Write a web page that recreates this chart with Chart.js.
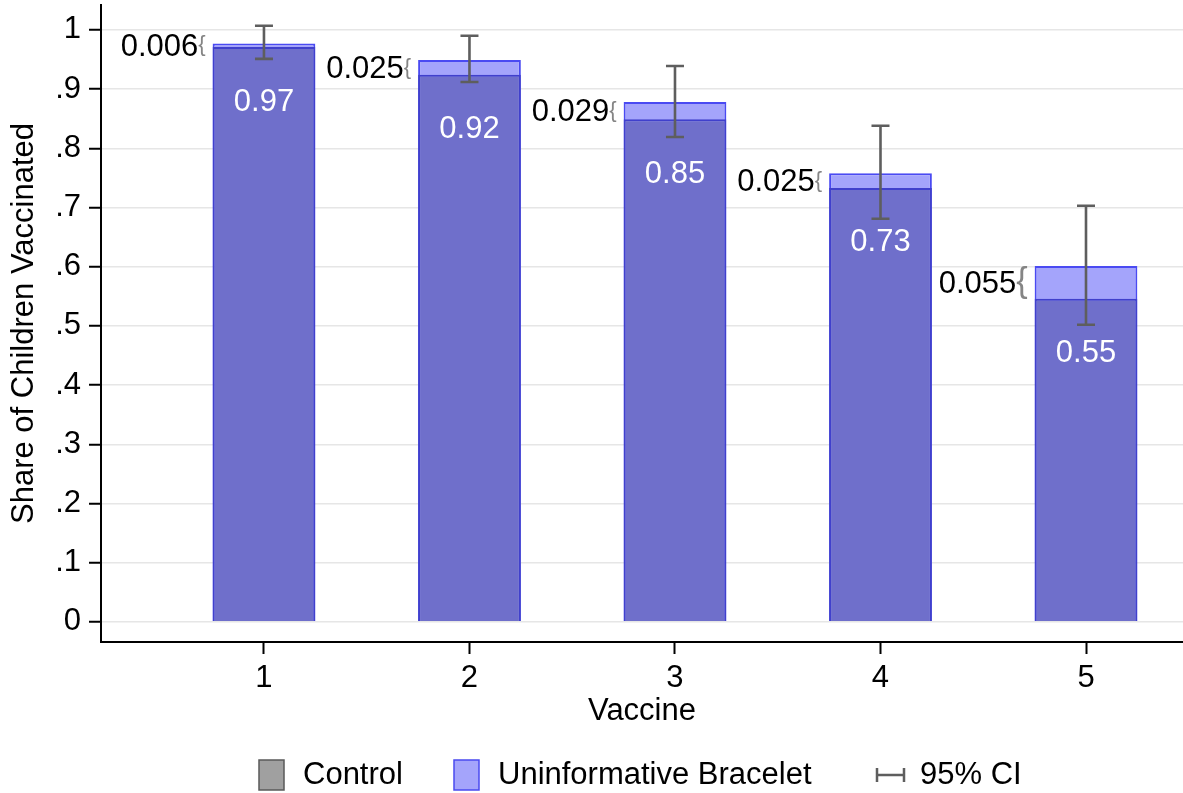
<!DOCTYPE html>
<html>
<head>
<meta charset="utf-8">
<script src="https://cdn.jsdelivr.net/npm/chart.js@4/dist/chart.umd.min.js"></script>
<style>
html,body{margin:0;padding:0;background:#fff;}
#wrap{width:1183px;height:793px;position:relative;}
</style>
</head>
<body>
<div id="wrap"><canvas id="c"></canvas></div>
<script>
const categories = [1, 2, 3, 4, 5];
const categoryLabels = ['1', '2', '3', '4', '5'];
const controlValues = [0.971, 0.924, 0.849, 0.733, 0.546];
const braceletValues = [0.977, 0.949, 0.878, 0.758, 0.601];
const ciLow = [0.951, 0.912, 0.819, 0.681, 0.502];
const ciHigh = [1.007, 0.990, 0.939, 0.838, 0.703];
const diffLabels = ['0.006', '0.025', '0.029', '0.025', '0.055'];
const controlLabels = ['0.97', '0.92', '0.85', '0.73', '0.55'];
const yTickValues = [0, 0.1, 0.2, 0.3, 0.4, 0.5, 0.6, 0.7, 0.8, 0.9, 1];
const yTickLabels = ['0', '.1', '.2', '.3', '.4', '.5', '.6', '.7', '.8', '.9', '1'];
const legendLabels = ['Control', 'Uninformative Bracelet', '95% CI'];

const FONT = '"Liberation Sans", Arial, Helvetica, sans-serif';
const FS = 31;

const annotPlugin = {
  id: 'annot',
  afterDatasetsDraw(chart) {
    const ctx = chart.ctx;
    const xs = chart.scales.x, ys = chart.scales.y;
    const meta = chart.getDatasetMeta(0);
    ctx.save();
    categories.forEach((c, i) => {
      const x = xs.getPixelForValue(c);
      const bar = meta.data[i];
      const halfW = bar.width / 2;
      const yc = ys.getPixelForValue(controlValues[i]);
      const yb = ys.getPixelForValue(braceletValues[i]);
      // error bars
      const yl = ys.getPixelForValue(ciLow[i]);
      const yh = ys.getPixelForValue(ciHigh[i]);
      ctx.strokeStyle = '#5e5e5e';
      ctx.lineWidth = 2.6;
      ctx.lineCap = 'butt';
      ctx.beginPath();
      ctx.moveTo(x, yl); ctx.lineTo(x, yh);
      ctx.moveTo(x - 9, yl); ctx.lineTo(x + 9, yl);
      ctx.moveTo(x - 9, yh); ctx.lineTo(x + 9, yh);
      ctx.stroke();
      // inside label
      ctx.fillStyle = '#ffffff';
      ctx.font = FS + 'px ' + FONT;
      ctx.textAlign = 'center';
      ctx.textBaseline = 'middle';
      ctx.fillText(controlLabels[i], x, yc + 55);
      // brace + diff label
      const mid = (yc + yb) / 2;
      const diffPx = Math.abs(yc - yb);
      const bfs = Math.max(22, diffPx * 1.05);
      ctx.font = bfs + 'px ' + FONT;
      ctx.fillStyle = '#858585';
      ctx.textAlign = 'right';
      const bx = x - halfW - 7;
      ctx.fillText('{', bx, mid);
      const bw = ctx.measureText('{').width;
      ctx.font = FS + 'px ' + FONT;
      ctx.fillStyle = '#000000';
      ctx.fillText(diffLabels[i], bx - bw, mid + 2);
    });
    ctx.restore();
  },
  afterDraw(chart) {
    const ctx = chart.ctx;
    ctx.save();
    const cy = 775;
    ctx.font = FS + 'px ' + FONT;
    ctx.textBaseline = 'middle';
    ctx.textAlign = 'left';
    // Control box
    ctx.fillStyle = '#a0a0a0';
    ctx.strokeStyle = '#5a5a5a';
    ctx.lineWidth = 1.5;
    ctx.fillRect(259, cy - 15, 25, 30);
    ctx.strokeRect(259, cy - 15, 25, 30);
    ctx.fillStyle = '#000';
    ctx.fillText(legendLabels[0], 303, cy);
    // Bracelet box
    ctx.fillStyle = '#a4a4fb';
    ctx.strokeStyle = '#4a4af0';
    ctx.fillRect(454, cy - 15, 25, 30);
    ctx.strokeRect(454, cy - 15, 25, 30);
    ctx.fillStyle = '#000';
    ctx.fillText(legendLabels[1], 498, cy);
    // CI symbol
    ctx.strokeStyle = '#5e5e5e';
    ctx.lineWidth = 2.5;
    ctx.beginPath();
    ctx.moveTo(877, cy); ctx.lineTo(904, cy);
    ctx.moveTo(877, cy - 7); ctx.lineTo(877, cy + 7);
    ctx.moveTo(904, cy - 7); ctx.lineTo(904, cy + 7);
    ctx.stroke();
    ctx.fillStyle = '#000';
    ctx.fillText(legendLabels[2], 920, cy);
    ctx.restore();
  }
};

new Chart(document.getElementById('c'), {
  type: 'bar',
  data: {
    datasets: [
      {
        label: 'Control',
        data: categories.map((c, i) => ({ x: c, y: controlValues[i] })),
        backgroundColor: '#6f6fcb',
        borderColor: '#4040cc',
        borderWidth: 2,
        grouped: false,
        categoryPercentage: 1,
        barPercentage: 0.5
      },
      {
        label: 'Uninformative Bracelet',
        data: categories.map((c, i) => ({ x: c, y: braceletValues[i] })),
        backgroundColor: '#a4a4fb',
        borderColor: '#4a4af2',
        borderWidth: 2,
        grouped: false,
        categoryPercentage: 1,
        barPercentage: 0.5
      }
    ]
  },
  options: {
    responsive: true,
    maintainAspectRatio: false,
    animation: false,
    layout: { padding: { top: 5, right: 0, left: 0, bottom: 0 } },
    plugins: { legend: { display: false }, tooltip: { enabled: false } },
    scales: {
      x: {
        type: 'linear',
        offset: false,
        min: 0.207,
        max: 5.472,
        afterBuildTicks: (s) => { s.ticks = categories.map(v => ({ value: v })); },
        afterFit: (s) => { s.height = 151; s.paddingLeft = 0; s.paddingRight = 0; },
        ticks: {
          callback: (v) => categoryLabels[categories.indexOf(v)],
          color: '#000',
          font: { family: FONT, size: FS },
          padding: 6,
          maxRotation: 0,
          autoSkip: false
        },
        grid: { offset: false, drawOnChartArea: false, tickLength: 12, tickColor: '#000', tickWidth: 2 },
        border: { color: '#000', width: 2 },
        title: {
          display: true,
          text: 'Vaccine',
          color: '#000',
          font: { family: FONT, size: FS },
          padding: { top: 0, bottom: 63 }
        }
      },
      y: {
        min: -0.034,
        max: 1.042,
        afterBuildTicks: (s) => { s.ticks = yTickValues.map(v => ({ value: v })); },
        afterFit: (s) => { s.width = 101; s.paddingTop = 0; s.paddingBottom = 0; },
        ticks: {
          callback: (v) => yTickLabels[yTickValues.findIndex(t => Math.abs(t - v) < 1e-9)],
          color: '#000',
          font: { family: FONT, size: FS },
          padding: 8,
          autoSkip: false
        },
        grid: { color: '#e6e6e6', lineWidth: 1.5, tickLength: 12, tickColor: '#000', tickWidth: 2 },
        border: { color: '#000', width: 2 },
        title: {
          display: true,
          text: 'Share of Children Vaccinated',
          color: '#000',
          font: { family: FONT, size: FS },
          padding: { top: 6, bottom: 0 }
        }
      }
    }
  },
  plugins: [annotPlugin]
});
</script>
</body>
</html>
